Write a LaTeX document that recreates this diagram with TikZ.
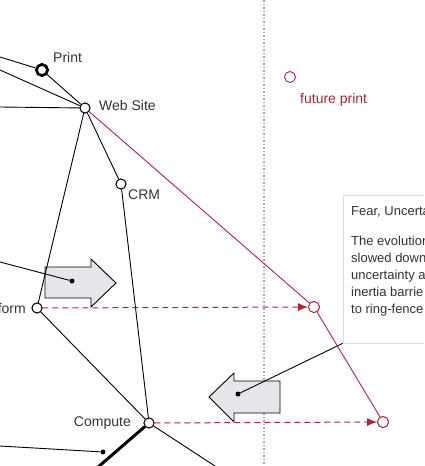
\documentclass[tikz,border=0pt]{standalone}
\usepackage{fontspec}
\setmainfont{Liberation Sans}
\usetikzlibrary{arrows.meta}
\definecolor{txt}{HTML}{333333}
\definecolor{redc}{RGB}{165,40,58}
\definecolor{boxg}{HTML}{E5E6E9}
\definecolor{dotg}{HTML}{A8A8A8}
\definecolor{brd}{HTML}{DDDDDD}
\begin{document}
\begin{tikzpicture}[x=1pt,y=-1pt,
  nd/.style={circle,draw=black,fill=white,inner sep=0pt,minimum size=10pt,line width=0.9pt},
  ndthick/.style={circle,draw=black,fill=white,inner sep=0pt,minimum size=11pt,line width=2.6pt},
  rnd/.style={circle,draw=redc,fill=white,inner sep=0pt,minimum size=11pt,line width=0.9pt},
  bdot/.style={circle,fill=black,inner sep=0pt,minimum size=5pt},
  lbl/.style={text=txt,font=\fontsize{14}{16}\selectfont,inner sep=0pt},
  rlbl/.style={text=redc,font=\fontsize{14}{16}\selectfont,inner sep=0pt},
  ctext/.style={text=txt,font=\fontsize{13}{15}\selectfont,inner sep=0pt,anchor=base west},
  conn/.style={line width=0.9pt,black},
  rconn/.style={line width=0.9pt,redc},
  rdash/.style={line width=1pt,redc,dash pattern=on 6pt off 4pt,-{Latex[length=10pt,width=8pt]}},
  blockarrow/.style={fill=boxg,draw=black,line width=0.9pt,line join=miter}]
\useasboundingbox (0,0) rectangle (424,466);
\clip (0,0) rectangle (424,466);
% dotted divider
\draw[dotg,line width=1.2pt,dash pattern=on 1.5pt off 2pt] (264,0) -- (264,466);
% callout box
\node[draw=brd,fill=white,line width=0.8pt,minimum width=97pt,minimum height=148pt,inner sep=0pt] (fud) at (391.5,269) {};
\node[ctext] (t0) at (351,215) {Fear, Uncerta};
\node[ctext] (t1) at (351,245) {The evolution};
\node[ctext] (t2) at (351,262) {slowed down};
\node[ctext] (t3) at (351,279) {uncertainty a};
\node[ctext] (t4) at (351,296) {inertia barrie};
\node[ctext] (t5) at (351,313) {to ring-fence};
% nodes
\node[ndthick] (print) at (42,70) {};
\node[nd] (web) at (85,108) {};
\node[nd] (crm) at (121,184) {};
\node[nd] (plat) at (37,308) {};
\node[nd] (comp) at (149,423) {};
\node[rnd] (fprint) at (290,77) {};
\node[rnd] (r1) at (314,307) {};
\node[rnd] (r2) at (383,422) {};
% outside ends
\coordinate (o1) at (0,57);
\coordinate (o2) at (0,70);
\coordinate (o3) at (0,107);
\coordinate (o4) at (97,468);
\coordinate (o5) at (218,468);
\coordinate (o6) at (0,446);
\coordinate (o7) at (0,262);
% block arrows
\draw[blockarrow] (45,267) -- (91,267) -- (91,259) -- (116,283) -- (91,307) -- (91,298) -- (45,298) -- cycle;
\draw[blockarrow] (280,381) -- (234,381) -- (234,373) -- (209,397) -- (234,422) -- (234,413) -- (280,413) -- cycle;
\node[bdot] (a1) at (72,281) {};
\node[bdot] (a2) at (238,394) {};
\node[bdot] (a3) at (103,452) {};
% connectors
\draw[conn] (o1) -- (print);
\draw[conn] (o2) -- (web);
\draw[conn] (o3) -- (web);
\draw[conn] (print) -- (web);
\draw[conn] (web) -- (plat);
\draw[conn] (web) -- (crm);
\draw[conn] (crm) -- (comp);
\draw[conn] (plat) -- (comp);
\draw[black,line width=3pt] (comp) -- (o4);
\draw[conn] (comp) -- (o5);
\draw[conn] (o6) -- (a3);
\draw[conn] (o7) -- (a1);
\draw[conn] (a2) -- (fud.south west);
\draw[rconn] (web) -- (r1);
\draw[rconn] (r1) -- (r2);
\draw[rdash] (plat) -- (r1);
\draw[rdash] (comp) -- (r2);
% redraw circles on top
\node[ndthick] at (print) {};
\node[nd] at (web) {};
\node[nd] at (crm) {};
\node[nd] at (plat) {};
\node[nd] at (comp) {};
\node[rnd] at (r1) {};
\node[rnd] at (r2) {};
% labels
\node[lbl,anchor=base west] (lprint) at (53,62) {Print};
\node[lbl,anchor=base west] (lweb) at (99,110) {Web Site};
\node[lbl,anchor=base west] (lcrm) at (128,199) {CRM};
\node[lbl,anchor=base east] (lplat) at (26,313) {Platform};
\node[lbl,anchor=base east] (lcomp) at (131,426) {Compute};
\node[rlbl,anchor=base west] (lfp) at (300,103) {future print};
\end{tikzpicture}
\end{document}
